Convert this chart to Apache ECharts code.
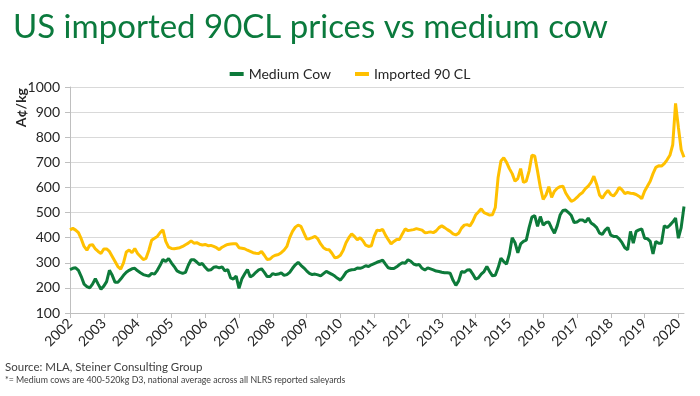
<!DOCTYPE html>
<html>
<head>
<meta charset="utf-8">
<script src="https://cdn.jsdelivr.net/npm/echarts@6/dist/echarts.min.js"></script>
<style>
  html, body { margin: 0; padding: 0; background: #fff; }
  #chart { width: 700px; height: 396px; }
</style>
</head>
<body>
<div id="chart"></div>
<script>
// years shown on the x axis (monthly data, Jan 2002 - Mar 2020)
var years = [2002, 2003, 2004, 2005, 2006, 2007, 2008, 2009, 2010, 2011,
             2012, 2013, 2014, 2015, 2016, 2017, 2018, 2019, 2020];
var lastYearMonths = 3;

// Medium cow, A c/kg (one row per year)
var mediumCow = [
  273, 278, 280, 270, 245, 215, 205, 200, 215, 237, 215, 195,  // 2002
  207, 225, 270, 250, 222, 222, 235, 250, 262, 270, 276, 278,  // 2003
  268, 260, 253, 250, 247, 258, 255, 270, 290, 313, 305, 317,  // 2004
  300, 285, 268, 262, 258, 262, 290, 312, 312, 303, 293, 297,  // 2005
  282, 270, 272, 282, 284, 280, 284, 268, 273, 240, 235, 247,  // 2006
  198, 235, 255, 273, 243, 250, 262, 272, 276, 262, 245, 245,  // 2007
  257, 253, 255, 260, 250, 253, 262, 278, 292, 302, 290, 280,  // 2008
  268, 258, 253, 255, 252, 248, 257, 266, 260, 254, 247, 238,  // 2009
  231, 245, 262, 269, 272, 273, 279, 278, 282, 288, 285, 292,  // 2010
  297, 302, 306, 311, 295, 280, 277, 277, 284, 293, 300, 298,  // 2011
  312, 306, 295, 291, 293, 278, 271, 280, 276, 272, 267, 265,  // 2012
  262, 260, 260, 258, 230, 210, 228, 265, 262, 271, 272, 255,  // 2013
  235, 240, 255, 265, 285, 265, 248, 250, 280, 318, 305, 295,  // 2014
  335, 400, 380, 340, 375, 385, 390, 440, 482, 488, 445, 484,  // 2015
  450, 460, 462, 438, 418, 448, 490, 508, 510, 500, 488, 460,  // 2016
  462, 470, 470, 462, 478, 458, 451, 440, 418, 413, 430, 440,  // 2017
  410, 405, 405, 395, 380, 360, 352, 425, 378, 425, 431, 435,  // 2018
  398, 396, 385, 335, 385, 378, 378, 448, 440, 450, 462, 478,  // 2019
  398, 440, 524                                                // 2020
];

// Imported 90CL, A c/kg
var imported90CL = [
  431, 437, 430, 420, 395, 365, 350, 370, 372, 355, 345, 337,  // 2002
  355, 355, 345, 325, 305, 285, 275, 300, 343, 351, 340, 357,  // 2003
  337, 325, 313, 318, 350, 390, 398, 405, 420, 431, 385, 362,  // 2004
  357, 356, 358, 360, 365, 372, 378, 387, 378, 380, 374, 371,  // 2005
  373, 368, 369, 365, 360, 352, 362, 368, 373, 375, 376, 376,  // 2006
  360, 358, 356, 350, 345, 340, 338, 337, 345, 330, 313, 315,  // 2007
  325, 330, 333, 340, 350, 365, 400, 425, 442, 450, 445, 420,  // 2008
  395, 396, 400, 405, 395, 375, 360, 353, 352, 338, 320, 322,  // 2009
  330, 350, 380, 400, 415, 405, 392, 400, 388, 370, 365, 368,  // 2010
  405, 430, 428, 433, 410, 392, 375, 385, 393, 393, 415, 435,  // 2011
  428, 430, 432, 436, 433, 430, 420, 421, 423, 420, 427, 440,  // 2012
  447, 440, 432, 425, 415, 411, 418, 438, 450, 452, 447, 465,  // 2013
  490, 502, 515, 500, 495, 490, 491, 520, 640, 705, 718, 700,  // 2014
  675, 655, 625, 635, 675, 620, 625, 665, 728, 725, 665, 600,  // 2015
  552, 570, 603, 560, 585, 597, 603, 605, 578, 560, 545, 550,  // 2016
  560, 572, 580, 595, 605, 620, 645, 612, 570, 557, 575, 588,  // 2017
  572, 566, 580, 600, 590, 575, 580, 577, 576, 572, 565, 555,  // 2018
  585, 605, 625, 655, 680, 686, 685, 695, 710, 728, 770, 935,  // 2019
  840, 750, 720                                                // 2020
];

// month categories
var months = [];
years.forEach(function (y, i) {
  var n = (i === years.length - 1) ? lastYearMonths : 12;
  for (var m = 1; m <= n; m++) {
    months.push(y + '-' + (m < 10 ? '0' + m : m));
  }
});

var textFont = 'Lato';
var chart = echarts.init(document.getElementById('chart'));

var option = {
  animation: false,
  backgroundColor: '#ffffff',
  textStyle: { fontFamily: textFont },
  title: {
    text: 'US imported 90CL prices vs medium cow',
    left: 8,
    top: 6,
    textStyle: { color: '#0b7a3d', fontSize: 33, fontWeight: 'normal', fontFamily: textFont }
  },
  legend: {
    top: 62,
    left: 'center',
    icon: 'rect',
    itemWidth: 14,
    itemHeight: 4,
    itemGap: 24,
    textStyle: { color: '#262626', fontSize: 14 },
    data: ['Medium Cow', 'Imported 90 CL']
  },
  grid: { left: 70, right: 16, top: 87, bottom: 83 },
  xAxis: {
    type: 'category',
    boundaryGap: false,
    data: months,
    axisLine: { lineStyle: { color: '#bfbfbf' } },
    axisTick: {
      length: 5,
      lineStyle: { color: '#bfbfbf' },
      interval: function (i) { return i % 12 === 0; }
    },
    axisLabel: {
      rotate: 45,
      color: '#262626',
      fontSize: 14,
      margin: 8,
      interval: function (i) { return i % 12 === 0; },
      formatter: function (v) { return v.slice(0, 4); }
    },
    splitLine: { show: false }
  },
  yAxis: {
    type: 'value',
    min: 100,
    max: 1000,
    interval: 100,
    axisLine: { show: true, lineStyle: { color: '#bfbfbf' } },
    axisTick: { show: true, length: 5, lineStyle: { color: '#bfbfbf' } },
    axisLabel: {
      color: '#262626',
      fontSize: 14,
      margin: 10,
      formatter: function (v) { return String(v); }
    },
    splitLine: { lineStyle: { color: '#d9d9d9' } }
  },
  graphic: [
    {
      type: 'text',
      left: 14,
      top: 88,
      rotation: Math.PI / 2,
      style: { text: 'A¢/kg', font: 'bold 14px ' + textFont, fill: '#262626' }
    },
    {
      type: 'text',
      left: 5,
      top: 361,
      style: { text: 'Source: MLA, Steiner Consulting Group', font: '11.5px ' + textFont, fill: '#404040' }
    },
    {
      type: 'text',
      left: 5,
      top: 376,
      style: { text: '*= Medium cows are 400-520kg D3, national average across all NLRS reported saleyards', font: '8.8px ' + textFont, fill: '#404040' }
    }
  ],
  series: [
    {
      name: 'Medium Cow',
      type: 'line',
      data: mediumCow,
      symbol: 'none',
      lineStyle: { color: '#0d7a3a', width: 3 },
      itemStyle: { color: '#0d7a3a' }
    },
    {
      name: 'Imported 90 CL',
      type: 'line',
      data: imported90CL,
      symbol: 'none',
      lineStyle: { color: '#ffc000', width: 3 },
      itemStyle: { color: '#ffc000' }
    }
  ]
};

chart.setOption(option);
</script>
</body>
</html>
